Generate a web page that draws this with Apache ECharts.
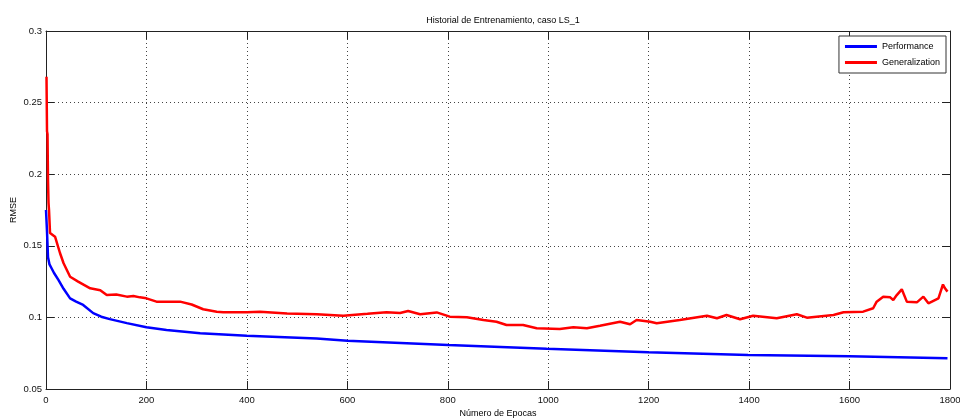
<!DOCTYPE html>
<html>
<head>
<meta charset="utf-8">
<script src="https://cdn.jsdelivr.net/npm/echarts@6/dist/echarts.min.js"></script>
<style>html,body{margin:0;padding:0;background:#fff;}#c{width:960px;height:419px;}</style>
</head>
<body>
<div id="c"></div>
<script>
const titleText = 'Historial de Entrenamiento, caso LS_1';
const xName = 'Número de Epocas';
const yName = 'RMSE';
const seriesNames = ['Performance', 'Generalization'];

const perfEpochs = [0,2,4,7,10,16,25,35,48,60,74,94,110,127,161,200,240,307,400,539,600,801,997,1199,1398,1600,1795];
const perfValues = [0.175,0.16,0.142,0.137,0.135,0.131,0.126,0.12,0.1133,0.111,0.1087,0.103,0.1005,0.0988,0.096,0.0931,0.0912,0.0889,0.0872,0.0852,0.0837,0.0807,0.0781,0.0756,0.0737,0.0728,0.0714];

const genEpochs = [1,2,3,4,5,6,8,18,28,35,48,64,88,108,121,140,161,174,187,200,220,240,267,290,313,340,353,400,426,480,539,592,640,678,705,721,745,778,804,838,871,897,917,950,977,1023,1050,1077,1103,1143,1163,1176,1203,1216,1262,1316,1336,1355,1382,1408,1455,1495,1515,1568,1588,1627,1647,1654,1667,1681,1687,1694,1704,1714,1734,1747,1757,1777,1786,1790,1795];
const genValues = [0.268,0.23,0.228,0.195,0.18,0.175,0.159,0.1564,0.1448,0.1378,0.1284,0.125,0.1203,0.119,0.1156,0.116,0.1145,0.115,0.114,0.1133,0.111,0.111,0.111,0.109,0.1057,0.104,0.1036,0.1036,0.104,0.1028,0.1022,0.1012,0.1025,0.1036,0.1031,0.1045,0.1022,0.1035,0.1005,0.1001,0.0982,0.097,0.0947,0.0947,0.0924,0.0919,0.0931,0.0924,0.0942,0.097,0.0952,0.0982,0.097,0.0959,0.0982,0.1012,0.0994,0.1017,0.0987,0.1012,0.0994,0.1022,0.0998,0.1017,0.1036,0.104,0.1064,0.111,0.1145,0.114,0.1122,0.1156,0.1196,0.111,0.1105,0.1145,0.1098,0.1133,0.123,0.1203,0.118];

const xMin = 0, xMax = 1800, xStep = 200;
const yMin = 0.05, yMax = 0.3, yStep = 0.05;

const pair = (xs, ys) => xs.map((x, i) => [x, ys[i]]);
const font = 'Liberation Sans';
const axisCol = '#222';

const chart = echarts.init(document.getElementById('c'), null, {renderer: 'canvas'});
const baseX = {
  type: 'value', min: xMin, max: xMax, interval: xStep,
  axisLine: {show: true, onZero: false, lineStyle: {color: axisCol, width: 1}},
  axisTick: {show: true, inside: true, length: 8, lineStyle: {color: axisCol}},
};
const baseY = {
  type: 'value', min: yMin, max: yMax, interval: yStep,
  axisLine: {show: true, onZero: false, lineStyle: {color: axisCol, width: 1}},
  axisTick: {show: true, inside: true, length: 8, lineStyle: {color: axisCol}},
};
chart.setOption({
  animation: false,
  backgroundColor: '#fff',
  title: {
    text: titleText, left: 498, top: 11, textAlign: 'center',
    textStyle: {fontFamily: font, fontSize: 9, fontWeight: 'normal', color: '#000'}
  },
  grid: {left: 46, right: 10, top: 31, bottom: 30, containLabel: false, outerBoundsMode: 'none'},
  legend: {
    orient: 'vertical', right: 14, top: 36,
    backgroundColor: '#fff', borderColor: '#333', borderWidth: 1,
    padding: [6, 6, 6, 6], itemGap: 7,
    icon: 'rect', itemWidth: 32, itemHeight: 3,
    textStyle: {fontFamily: font, fontSize: 9, color: '#000'},
    data: seriesNames
  },
  xAxis: [
    Object.assign({}, baseX, {
      position: 'bottom',
      name: xName, nameLocation: 'middle', nameGap: 20, nameMoveOverlap: false,
      nameTextStyle: {fontFamily: font, fontSize: 9, color: '#000'},
      axisLabel: {fontFamily: font, fontSize: 9.5, color: '#111', margin: 6,
        formatter: v => String(v)},
      splitLine: {show: true, lineStyle: {color: '#444', type: [1, 3], width: 1}}
    }),
    Object.assign({}, baseX, {
      position: 'top', axisLabel: {show: false}, splitLine: {show: false}
    })
  ],
  yAxis: [
    Object.assign({}, baseY, {
      position: 'left',
      name: yName, nameLocation: 'middle', nameGap: 28, nameMoveOverlap: false,
      nameTextStyle: {fontFamily: font, fontSize: 9, color: '#000'},
      axisLabel: {fontFamily: font, fontSize: 9.5, color: '#111', margin: 4,
        formatter: v => String(Math.round(v * 100) / 100)},
      splitLine: {show: true, lineStyle: {color: '#444', type: [1, 3], width: 1}}
    }),
    Object.assign({}, baseY, {
      position: 'right', axisLabel: {show: false}, splitLine: {show: false}
    })
  ],
  series: [
    {
      name: seriesNames[0], type: 'line', xAxisIndex: 0, yAxisIndex: 0,
      data: pair(perfEpochs, perfValues), showSymbol: false, symbol: 'none',
      lineStyle: {color: '#0000ff', width: 2.5}, itemStyle: {color: '#0000ff'}, z: 3
    },
    {
      name: seriesNames[1], type: 'line', xAxisIndex: 0, yAxisIndex: 0,
      data: pair(genEpochs, genValues), showSymbol: false, symbol: 'none',
      lineStyle: {color: '#ff0000', width: 2.5}, itemStyle: {color: '#ff0000'}, z: 4
    }
  ]
});
</script>
</body>
</html>
